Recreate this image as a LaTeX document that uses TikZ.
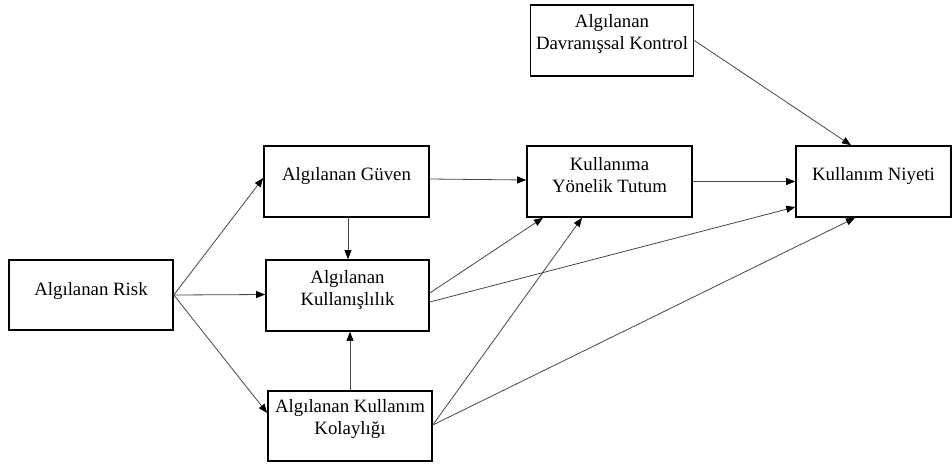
\documentclass[tikz,border=0pt]{standalone}
\usepackage{fontspec}
\setmainfont{Liberation Serif}
\usetikzlibrary{arrows.meta}
\begin{document}
\begin{tikzpicture}[x=1pt,y=-1pt,
  box/.style={draw=black,line width=1.6pt,rectangle,inner sep=0pt,minimum height=71pt},
  lbl/.style={font=\fontsize{18.8}{22}\selectfont,align=center,anchor=base,inner sep=0pt},
  conn/.style={draw=black!72,line width=0.8pt,-{Triangle[length=9pt,width=7pt,color=black]}}]
\useasboundingbox (0,0) rectangle (952,464);
% boxes
\node[box,minimum width=163pt] (dk) at (612,40.5) {};
\node[box,minimum width=165pt] (guven) at (346.5,181.5) {};
\node[box,minimum width=165pt] (tutum) at (609.5,181.5) {};
\node[box,minimum width=155pt] (niyet) at (873.5,181.5) {};
\node[box,minimum width=164pt,minimum height=70pt] (risk) at (91,295) {};
\node[box,minimum width=163pt] (kull) at (347.5,295.5) {};
\node[box,minimum width=164pt,minimum height=70pt] (kolay) at (350,426) {};
% labels
\node[lbl] (dkT) at ([yshift=-8.5pt]dk.center) {Algılanan\\Davranışsal Kontrol};
\node[lbl] (guvenT) at ([yshift=1.5pt]guven.center) {Algılanan Güven};
\node[lbl] (tutumT) at ([yshift=-10.5pt]tutum.center) {Kullanıma\\Yönelik Tutum};
\node[lbl] (niyetT) at ([yshift=1pt]niyet.center) {Kullanım Niyeti};
\node[lbl] (riskT) at ([yshift=0pt]risk.center) {Algılanan Risk};
\node[lbl] (kullT) at ([yshift=-9.5pt]kull.center) {Algılanan\\Kullanışlılık};
\node[lbl] (kolayT) at ([yshift=-8.5pt]kolay.center) {Algılanan Kullanım\\Kolaylığı};
% connectors
\draw[conn] (risk.east) -- ([yshift=3.5pt]guven.west);
\draw[conn] (risk.east) -- ([yshift=1pt]kull.west);
\draw[conn] (risk.east) -- ([yshift=13pt]kolay.west);
\draw[conn] ([xshift=1.5pt]guven.south) -- ([xshift=1.5pt]guven.south |- kull.north);
\draw[conn] (kolay.north) -- (kolay.north |- kull.south);
\draw[conn] ([yshift=2.5pt]guven.east) -- ([yshift=1.5pt]tutum.west);
\draw[conn] ([yshift=2.5pt]kull.east) -- ([xshift=-66.5pt]tutum.south);
\draw[conn] ([yshift=-6.5pt]kull.east) -- ([yshift=-25.5pt]niyet.west);
\draw[conn] ([yshift=1pt]kolay.east) -- ([xshift=-27.5pt]tutum.south);
\draw[conn] ([yshift=1pt]kolay.east) -- ([xshift=-18.5pt]niyet.south);
\draw[conn] (tutum.east) -- (niyet.west);
\draw[conn] (dk.east) -- ([xshift=-22.5pt]niyet.north);
\end{tikzpicture}
\end{document}
